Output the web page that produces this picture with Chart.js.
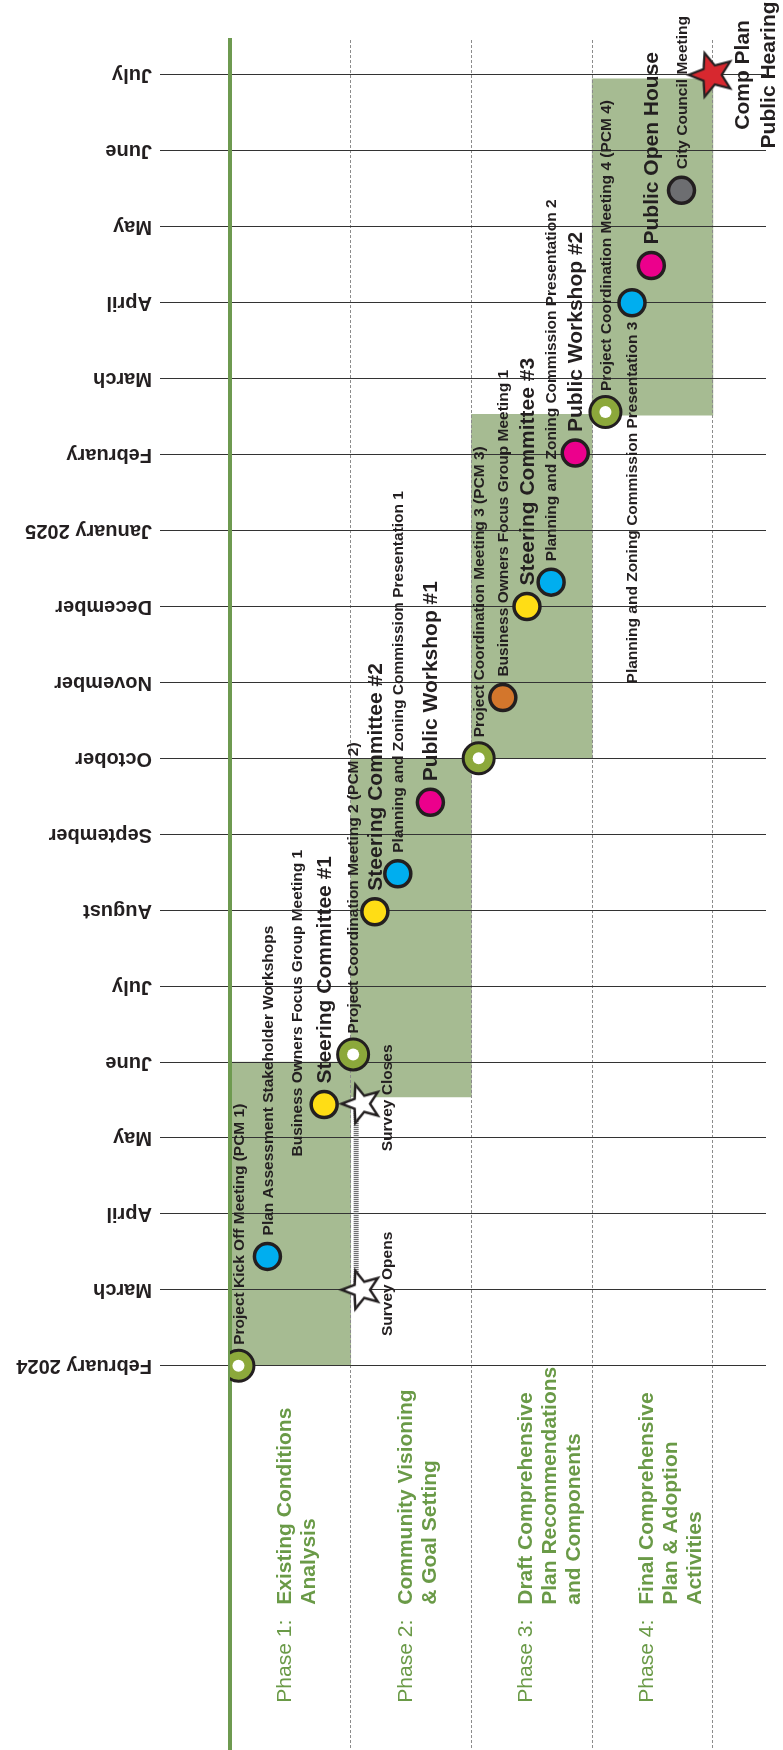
<!DOCTYPE html>
<html>
<head>
<meta charset="utf-8">
<script src="https://cdn.jsdelivr.net/npm/chart.js@4.4.1/dist/chart.umd.min.js"></script>
<style>
  html, body { margin: 0; padding: 0; background: #fff; }
  #wrap { width: 783px; height: 1750px; }
</style>
</head>
<body>
<div id="wrap"><canvas id="timeline" width="783" height="1750"></canvas></div>
<script>
// months on the vertical axis, index 0 = February 2024
const months = ['February 2024', 'March', 'April', 'May', 'June', 'July', 'August', 'September',
  'October', 'November', 'December', 'January 2025', 'February', 'March', 'April', 'May', 'June', 'July'];

// phases = columns, span given in month index
const phaseNames = ['Phase 1:', 'Phase 2:', 'Phase 3:', 'Phase 4:'];
const phaseTitles = [
  ['Existing Conditions', 'Analysis'],
  ['Community Visioning', '& Goal Setting'],
  ['Draft Comprehensive', 'Plan Recommendations', 'and Components'],
  ['Final Comprehensive', 'Plan & Adoption', 'Activities']
];
const phaseStart = [0, 3.54, 8, 12.52];
const phaseEnd = [4, 8, 12.53, 16.95];

// meetings (lane = position across the phase columns, month = month index)
const eventNames = [
  'Project Kick Off Meeting (PCM 1)',
  'Plan Assessment Stakeholder Workshops',
  'Steering Committee #1',
  'Project Coordination Meeting 2 (PCM 2)',
  'Steering Committee #2',
  'Planning and Zoning Commission Presentation 1',
  'Public Workshop #1',
  'Project Coordination Meeting 3 (PCM 3)',
  'Business Owners Focus Group Meeting 1',
  'Steering Committee #3',
  'Planning and Zoning Commission Presentation 2',
  'Public Workshop #2',
  'Project Coordination Meeting 4 (PCM 4)',
  'Planning and Zoning Commission Presentation 3',
  'Public Open House',
  'City Council Meeting'
];
const eventLane = [0.07, 0.31, 0.78, 1.02, 1.2, 1.39, 1.66, 2.06, 2.26, 2.46, 2.66, 2.86, 3.11, 3.33, 3.49, 3.74];
const eventMonth = [0, 1.44, 3.44, 4.1, 5.98, 6.48, 7.42, 8.0, 8.8, 10.0, 10.32, 12.02, 12.56, 14.0, 14.49, 15.48];
const eventKind = ['pcm', 'workshop', 'steering', 'pcm', 'steering', 'pz', 'public', 'pcm', 'focus',
  'steering', 'pz', 'public', 'pcm', 'pz', 'public', 'council'];

// text only note
const noteNames = ['Business Owners Focus Group Meeting 1'];
const noteLane = [0.56];
const noteMonth = [2.48];

// survey window
const surveyNames = ['Survey Opens', 'Survey Closes'];
const surveyMonth = [1.0, 3.45];
const surveyLane = 1.09;

// final hearing
const hearingText = ['Comp Plan', 'Public Hearing'];
const hearingLane = 3.99;
const hearingMonth = 17;

const kindColor = {
  pcm: '#8ca83b', workshop: '#00aeef', pz: '#00aeef', steering: '#ffdd15',
  public: '#ec008c', focus: '#d3762c', council: '#6d6e71'
};
const bigKinds = ['steering', 'public'];
const labelBelow = [13];

const FONT = '"Liberation Sans", Arial, Helvetica, sans-serif';
const INK = '#231f20';
const GREEN = '#6a9a47';

function starIcon(outer, inner, fill, stroke, lw) {
  const s = Math.ceil(2 * outer + lw + 4);
  const c = document.createElement('canvas');
  c.width = s; c.height = s;
  const g = c.getContext('2d');
  g.translate(s / 2, s / 2);
  g.beginPath();
  for (let k = 0; k < 10; k++) {
    const r = k % 2 ? inner : outer;
    const a = -Math.PI / 2 + k * Math.PI / 5;
    g.lineTo(r * Math.cos(a), r * Math.sin(a));
  }
  g.closePath();
  g.fillStyle = fill;
  g.fill();
  g.lineWidth = lw;
  g.strokeStyle = stroke;
  g.stroke();
  return c;
}

function rotText(ctx, text, x, y, angle, align, font, color) {
  ctx.save();
  ctx.translate(x, y);
  ctx.rotate(angle);
  ctx.font = font;
  ctx.fillStyle = color;
  ctx.textAlign = align;
  ctx.textBaseline = 'middle';
  ctx.fillText(text, 0, 0);
  ctx.restore();
}

const labelPlugin = {
  id: 'timelineLabels',
  afterDatasetDraw(chart, args) {
    // put the grid back over the phase shading, under the markers
    if (args.meta.type !== 'bar') return;
    chart.scales.x.drawGrid(chart.chartArea);
    chart.scales.y.drawGrid(chart.chartArea);
    chart.scales.y.drawBorder();
  },
  afterDatasetsDraw(chart) {
    const ctx = chart.ctx;
    const xs = chart.scales.x, ys = chart.scales.y;
    const up = -Math.PI / 2;
    const small = 'bold 15.5px ' + FONT;
    const big = 'bold 21px ' + FONT;

    months.forEach((m, i) => {
      rotText(ctx, m, ys.left - 8, ys.getPixelForValue(i), Math.PI, 'left', 'bold 20px ' + FONT, INK);
    });

    eventNames.forEach((name, i) => {
      const px = xs.getPixelForValue(eventLane[i]);
      const py = ys.getPixelForValue(eventMonth[i]);
      const font = bigKinds.includes(eventKind[i]) ? big : small;
      if (labelBelow.includes(i)) rotText(ctx, name, px + 1, py + 19, up, 'right', font, INK);
      else rotText(ctx, name, px + 1, py - 21, up, 'left', font, INK);
    });

    noteNames.forEach((name, i) => {
      rotText(ctx, name, xs.getPixelForValue(noteLane[i]), ys.getPixelForValue(noteMonth[i]) - 21, up, 'left', small, INK);
    });

    surveyNames.forEach((name, i) => {
      rotText(ctx, name, xs.getPixelForValue(surveyLane) + 26, ys.getPixelForValue(surveyMonth[i]) - 6, up, 'center', small, INK);
    });

    const hx = xs.getPixelForValue(hearingLane), hy = ys.getPixelForValue(hearingMonth);
    hearingText.forEach((t, j) => rotText(ctx, t, hx + 32 + j * 26, hy, up, 'center', big, INK));

    const base = ys.getPixelForValue(0);
    phaseNames.forEach((p, i) => {
      const px = xs.getPixelForValue(i) + 55;
      rotText(ctx, p, px, base + 254, up, 'right', '21px ' + FONT, GREEN);
      phaseTitles[i].forEach((t, j) => rotText(ctx, t, px + j * 24, base + 239, up, 'left', 'bold 21px ' + FONT, GREEN));
    });
  }
};

const pcmIdx = eventKind.map((k, i) => k === 'pcm' ? i : -1).filter(i => i >= 0);

new Chart(document.getElementById('timeline'), {
  type: 'bar',
  data: {
    datasets: [
      {
        type: 'bar',
        label: 'phases',
        data: phaseStart.map((s, i) => ({ x: i + 0.5, y: [s, phaseEnd[i]] })),
        backgroundColor: '#a6bb92',
        borderWidth: 0,
        barPercentage: 1,
        categoryPercentage: 1,
        order: 10
      },
      {
        type: 'line',
        label: 'survey window',
        data: surveyMonth.map(m => ({ x: surveyLane - 0.045, y: m })),
        borderColor: '#555558',
        borderWidth: 5,
        borderDash: [1, 1],
        pointRadius: 0,
        order: 5
      },
      {
        type: 'scatter',
        label: 'meetings',
        data: eventLane.map((x, i) => ({ x: x, y: eventMonth[i] })),
        pointBackgroundColor: eventKind.map(k => kindColor[k]),
        pointBorderColor: INK,
        pointBorderWidth: eventKind.map(k => k === 'pcm' ? 3 : 3.5),
        pointRadius: eventKind.map(k => k === 'pcm' ? 15.5 : 13),
        order: 3
      },
      {
        type: 'scatter',
        label: 'pcm centre',
        data: pcmIdx.map(i => ({ x: eventLane[i], y: eventMonth[i] })),
        pointBackgroundColor: '#ffffff',
        pointBorderWidth: 0,
        pointRadius: 6,
        order: 2
      },
      {
        type: 'scatter',
        label: 'survey',
        data: surveyMonth.map(m => ({ x: surveyLane, y: m })),
        pointStyle: starIcon(20, 8.5, '#ffffff', INK, 2.5),
        pointRotation: -90,
        pointRadius: 20,
        order: 1
      },
      {
        type: 'scatter',
        label: 'hearing',
        data: [{ x: hearingLane, y: hearingMonth }],
        pointStyle: starIcon(23, 10, '#d7282f', INK, 2.2),
        pointRotation: -90,
        pointRadius: 23,
        order: 0
      }
    ]
  },
  options: {
    responsive: false,
    animation: false,
    events: [],
    layout: { autoPadding: false, padding: { left: 160, right: 17, top: 40, bottom: 0 } },
    plugins: {
      legend: { display: false },
      tooltip: { enabled: false }
    },
    scales: {
      x: {
        type: 'linear',
        min: 0,
        max: 4.44,
        offset: false,
        position: 'bottom',
        afterBuildTicks: s => { s.ticks = [0, 1, 2, 3, 4].map(v => ({ value: v })); },
        afterFit: s => { s.height = 0; },
        ticks: { display: false },
        grid: {
          offset: false,
          color: c => (c.tick && c.tick.value === 0) ? 'rgba(0,0,0,0)' : '#8c8c8c',
          lineWidth: 1,
          drawTicks: false
        },
        border: { display: false, dash: [3, 2] }
      },
      y: {
        type: 'linear',
        min: -5.06,
        max: 17.46,
        position: 'left',
        afterBuildTicks: s => { s.ticks = months.map((m, i) => ({ value: i })); },
        ticks: { display: false },
        grid: { color: '#333333', lineWidth: 1.1, tickLength: 70 },
        border: { display: true, color: '#6e9a50', width: 4 }
      }
    }
  },
  plugins: [labelPlugin]
});
</script>
</body>
</html>
